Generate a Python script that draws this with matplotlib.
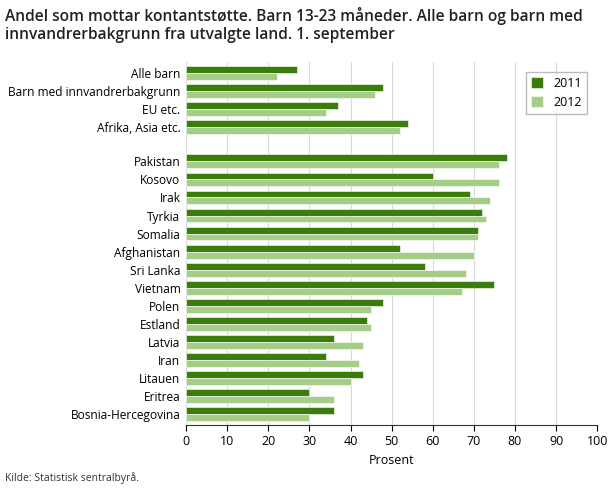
import matplotlib.pyplot as plt
import numpy as np

plt.rcParams['font.family'] = ['Open Sans', 'DejaVu Sans']

labels = ['Alle barn', 'Barn med innvandrerbakgrunn', 'EU etc.', 'Afrika, Asia etc.',
          'Pakistan', 'Kosovo', 'Irak', 'Tyrkia', 'Somalia', 'Afghanistan', 'Sri Lanka',
          'Vietnam', 'Polen', 'Estland', 'Latvia', 'Iran', 'Litauen', 'Eritrea',
          'Bosnia-Hercegovina']
v2011 = [27, 48, 37, 54, 78, 60, 69, 72, 71, 52, 58, 75, 48, 44, 36, 34, 43, 30, 36]
v2012 = [22, 46, 34, 52, 76, 76, 74, 73, 71, 70, 68, 67, 45, 45, 43, 42, 40, 36, 30]

pos = np.array([i if i < 4 else i + 0.9 for i in range(len(labels))])

fig = plt.figure(figsize=(6.1, 4.88), dpi=100)
ax = fig.add_axes([0.305, 0.129, 0.674, 0.744])
h = 0.38
ax.barh(pos - h / 2, v2011, height=h, color='#3a7d0a', edgecolor='white', linewidth=0.4, label='2011', zorder=3)
ax.barh(pos + h / 2, v2012, height=h, color='#a5cd87', edgecolor='white', linewidth=0.4, label='2012', zorder=3)

ax.set_yticks(pos)
ax.set_yticklabels(labels, fontsize=8.6)
ax.set_ylim(pos[-1] + 0.6, -0.6)
ax.set_xlim(0, 100)
ax.set_xticks(range(0, 101, 10))
ax.tick_params(axis='x', labelsize=9, length=4)
ax.tick_params(axis='y', length=0, pad=4)
ax.set_xlabel('Prosent', fontsize=9)
ax.grid(axis='x', color='#d9d9d9', linewidth=0.8, zorder=0)
for s in ['top', 'right', 'left']:
    ax.spines[s].set_visible(False)
ax.spines['bottom'].set_color('#333333')

leg = ax.legend(loc='upper right', fontsize=9, frameon=True, fancybox=False,
                handlelength=1.0, handleheight=1.0, bbox_to_anchor=(0.99, 0.99))
leg.get_frame().set_edgecolor('#aaaaaa')

fig.text(0.008, 0.985, 'Andel som mottar kontantstøtte. Barn 13-23 måneder. Alle barn og barn med\ninnvandrerbakgrunn fra utvalgte land. 1. september',
         fontsize=11.2, fontweight='semibold', va='top', ha='left', color='#222222', linespacing=1.15)
fig.text(0.008, 0.015, 'Kilde: Statistisk sentralbyrå.', fontsize=7.5, color='#333333')

fig.savefig('out.png', dpi=100)
